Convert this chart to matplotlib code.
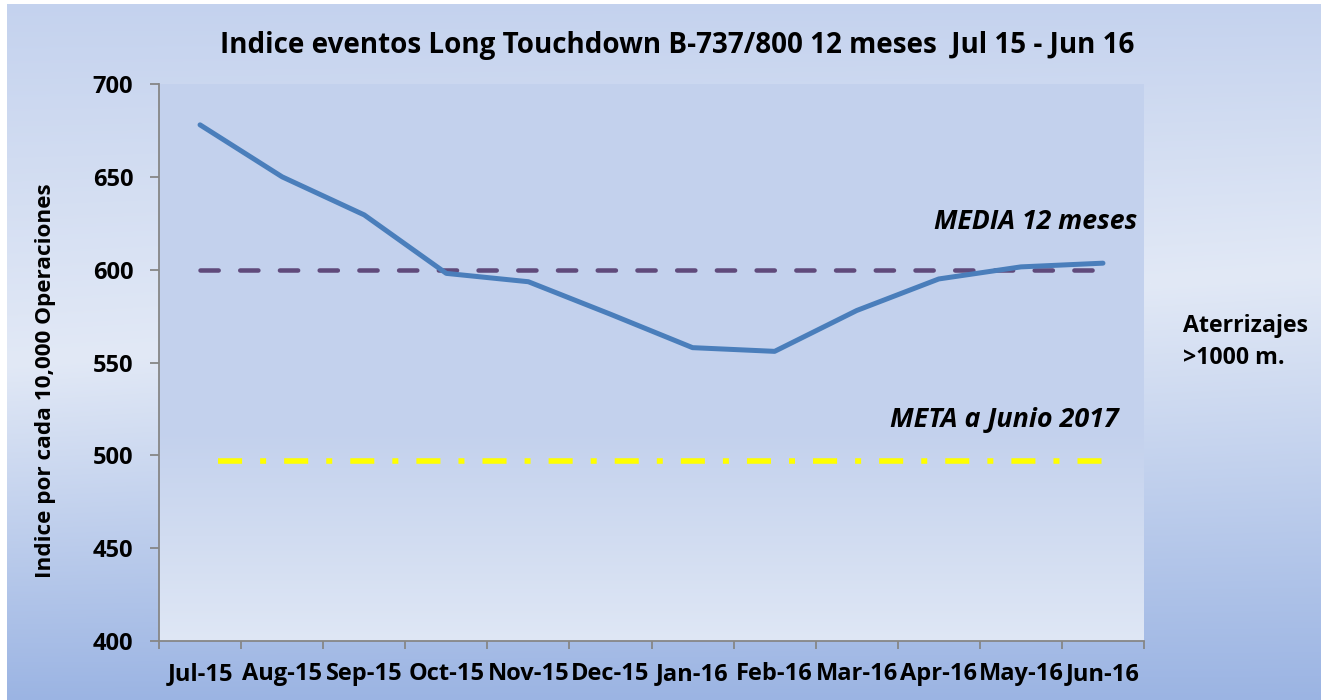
import numpy as np
import matplotlib
matplotlib.use("Agg")
import matplotlib.pyplot as plt

plt.rcParams['font.family'] = ['Open Sans', 'DejaVu Sans']
plt.rcParams['lines.scale_dashes'] = False

# ---- data ----
months = ['Jul-15', 'Aug-15', 'Sep-15', 'Oct-15', 'Nov-15', 'Dec-15',
          'Jan-16', 'Feb-16', 'Mar-16', 'Apr-16', 'May-16', 'Jun-16']
indice = [678, 650, 629.5, 598, 593.5, 576, 558, 556, 578, 595, 601.5, 603.5]
media = [600] * 12
meta = [497] * 12
yticks = [400, 450, 500, 550, 600, 650, 700]

title = 'Indice eventos Long Touchdown B-737/800 12 meses  Jul 15 - Jun 16'
ylabel = 'Indice por cada 10,000 Operaciones'

W, H = 1321, 700
DPI = 100
fig = plt.figure(figsize=(W / DPI, H / DPI), dpi=DPI)

ax_pos = [159 / W, 1 - 641 / H, (1144 - 159) / W, (641 - 84) / H]

# ---- background gradients ----
yy, xx = np.mgrid[0:H, 0:W].astype(float)
top = np.array([196, 210, 238]) / 255
light = np.array([226, 233, 246]) / 255
bottom = np.array([155, 180, 227]) / 255
tl = 360 - 0.07 * (xx - 50)
f1 = np.clip(yy / tl, 0, 1)[..., None]
f2 = np.clip((yy - tl) / (H - tl), 0, 1)[..., None]
above = (yy <= tl)[..., None]
img = np.where(above, top + (light - top) * f1, light + (bottom - light) * f2)
img[:4, :, :] = 1.0
img[:, :7, :] = 1.0

# plot area gradient
x0 = int(round(ax_pos[0] * W)); x1 = int(round((ax_pos[0] + ax_pos[2]) * W))
y0 = int(round((1 - ax_pos[1] - ax_pos[3]) * H)); y1 = int(round((1 - ax_pos[1]) * H))
pa_top = np.array([195, 209, 237]) / 255
pa_bot = np.array([223, 231, 245]) / 255
ys = np.arange(y0, y1).astype(float)
g = np.clip((ys - (y0 + 0.62 * (y1 - y0))) / (0.38 * (y1 - y0)), 0, 1)[:, None]
img[y0:y1, x0:x1, :] = (pa_top + (pa_bot - pa_top) * g)[:, None, :]

bg = fig.add_axes([0, 0, 1, 1], zorder=-5)
bg.imshow(img, aspect='auto', extent=[0, 1, 0, 1], interpolation='bilinear')
bg.set_axis_off()

# ---- main axes ----
ax = fig.add_axes(ax_pos)
ax.patch.set_visible(False)
x = np.arange(len(months))

ax.plot(x, meta, color='#FFFF00', lw=4.0, solid_capstyle='butt', dash_capstyle='butt',
        linestyle=(34.6, (17.3, 13.0, 4.3, 13.0)), zorder=2)
ax.plot(x, media, color='#604A7B', lw=3.25, dash_capstyle='round',
        linestyle=(0, (13.1, 15.5)), zorder=3)
ax.plot(x, indice, color='#4A7EBB', lw=3.6, solid_capstyle='round',
        solid_joinstyle='round', zorder=4)

ax.set_xlim(-0.5, len(months) - 0.5)
ax.set_ylim(400, 700)

gray = '#868686'
for s in ['top', 'right']:
    ax.spines[s].set_visible(False)
for s in ['left', 'bottom']:
    ax.spines[s].set_color(gray)
    ax.spines[s].set_linewidth(1.3)

ax.set_yticks(yticks)
ax.set_yticklabels([str(v) for v in yticks], fontsize=17, fontweight='bold')
ax.tick_params(axis='y', direction='out', length=6.5, width=1.3, color=gray, pad=12)

ax.set_xticks(np.arange(-0.5, len(months), 1.0))
ax.set_xticklabels([''] * (len(months) + 1))
ax.set_xticks(x, minor=True)
ax.set_xticklabels(months, minor=True, fontsize=17, fontweight='bold')
ax.tick_params(axis='x', which='major', direction='out', length=6, width=1.3, color=gray)
ax.tick_params(axis='x', which='minor', length=0, pad=15)

ax.set_ylabel(ylabel, fontsize=16.2, fontweight='bold')
ax.yaxis.label.set_va('center')
ax.yaxis.set_label_coords(-0.1157, 0.467)

fig.text(677 / W, 1 - 53 / H, title, fontsize=20, fontweight='bold',
         ha='center', va='baseline')
fig.text(1137 / W, 1 - 229 / H, 'MEDIA 12 meses', fontsize=19.2, fontweight='bold',
         fontstyle='italic', ha='right', va='baseline')
fig.text(1119 / W, 1 - 427 / H, 'META a Junio 2017', fontsize=19.4, fontweight='bold',
         fontstyle='italic', ha='right', va='baseline')
fig.text(1183 / W, 1 - 332 / H, 'Aterrizajes', fontsize=16.7, fontweight='bold',
         ha='left', va='baseline')
fig.text(1183 / W, 1 - 364 / H, '>1000 m.', fontsize=16.7, fontweight='bold',
         ha='left', va='baseline')

fig.savefig('out.png', dpi=DPI)
